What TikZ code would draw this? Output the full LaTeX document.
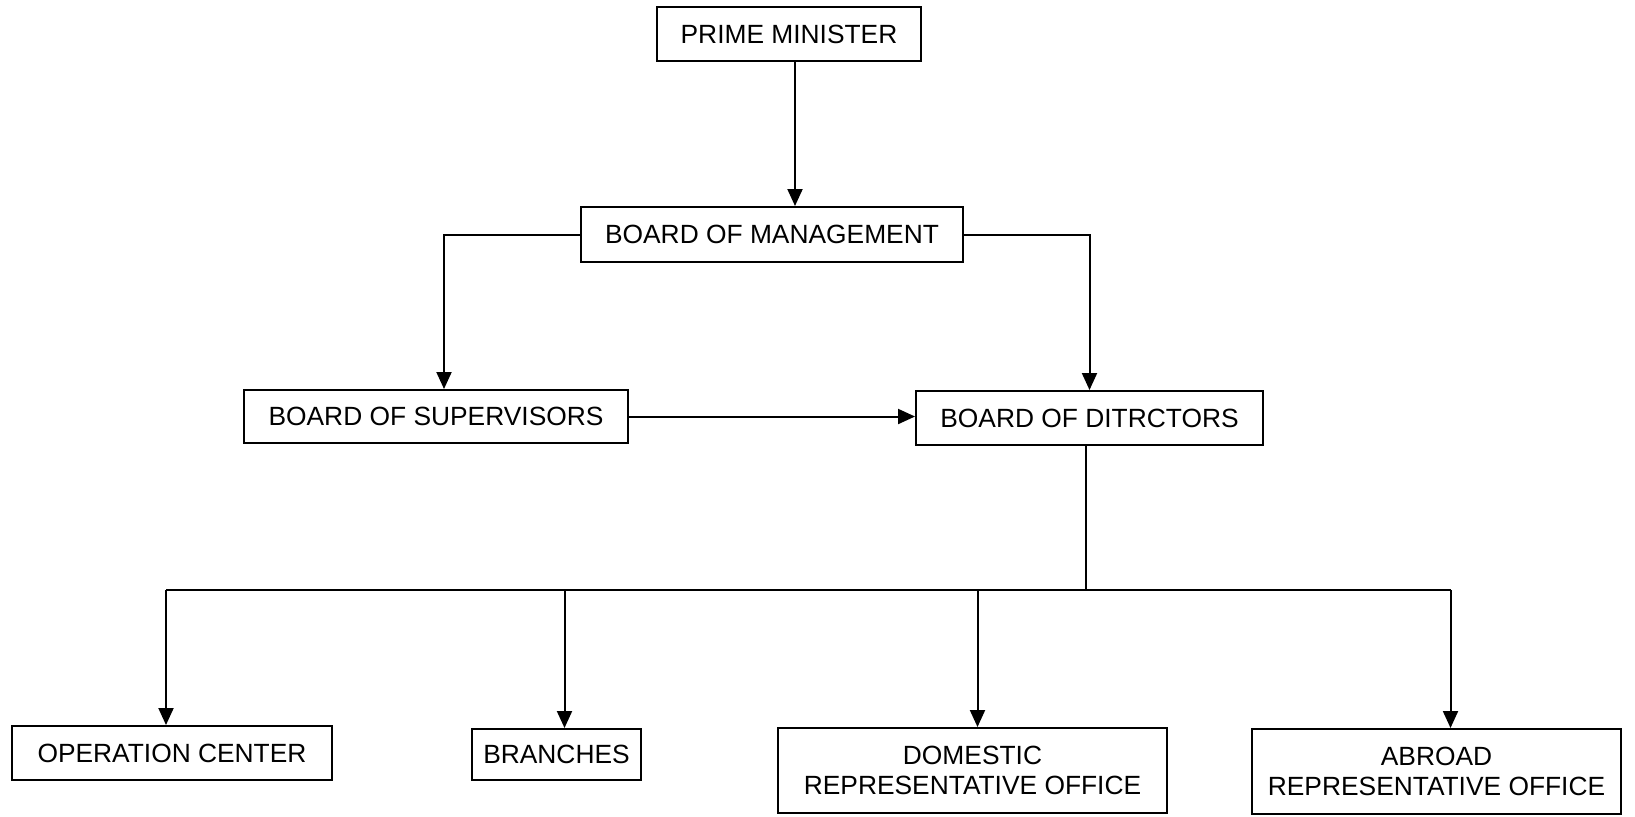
\documentclass[tikz,border=0pt]{standalone}
\usepackage{fontspec}
\setmainfont{Liberation Sans}
\usetikzlibrary{arrows.meta,calc}

\begin{document}
\begin{tikzpicture}[x=0.02cm,y=-0.02cm,
  box/.style={draw, line width=0.04cm, inner sep=0pt, align=center,
    font=\fontsize{15}{17}\selectfont},
  link/.style={line width=0.04cm},
  arr/.style={line width=0.04cm, -{Triangle[length=0.34cm,width=0.3cm]}}]
\useasboundingbox (0,0) rectangle (1635,816);

\node[box, minimum width=5.28cm, minimum height=1.08cm] (pm) at (789,34) {PRIME MINISTER};
\node[box, minimum width=7.64cm, minimum height=1.1cm] (bom) at (772,234.5) {BOARD OF MANAGEMENT};
\node[box, minimum width=7.68cm, minimum height=1.06cm] (bos) at (436,416.5) {BOARD OF SUPERVISORS};
\node[box, minimum width=6.94cm, minimum height=1.08cm] (bod) at (1089.5,418) {BOARD OF DITRCTORS};

\node[box, minimum width=6.4cm, minimum height=1.08cm] (opc) at (172,753) {OPERATION CENTER};
\node[box, minimum width=3.38cm, minimum height=1.02cm] (brn) at (556.5,754.5) {BRANCHES};
\node[box, minimum width=7.78cm, minimum height=1.7cm] (dom) at (972.5,770.5) {DOMESTIC\\REPRESENTATIVE OFFICE};
\node[box, minimum width=7.38cm, minimum height=1.7cm] (abr) at (1436.5,771.5) {ABROAD\\REPRESENTATIVE OFFICE};

% arrow ends are a little off the box centres
\coordinate (pmin) at ($(pm.south)+(6,0)$);
\coordinate (bosin) at ($(bos.north)+(8,0)$);
\coordinate (opcin) at ($(opc.north)+(-6,0)$);
\coordinate (brnin) at ($(brn.north)+(8,0)$);
\coordinate (domin) at ($(dom.north)+(5,0)$);
\coordinate (abrin) at ($(abr.north)+(14,0)$);

\draw[arr] (pmin) -- (pmin |- bom.north);
\draw[arr] (bom.west) -| (bosin);
\draw[arr] (bom.east) -| (bod.north);
\draw[arr] (bos.east) -- (bos.east -| bod.west);

\coordinate (bus) at ($(bod.south |- 0,590)+(-4,0)$);
\draw[link] (bus |- bod.south) -- (bus);
\draw[link] (bus) -- (bus -| opcin);
\draw[link] (bus) -- (bus -| abrin);
\foreach \c in {opcin,brnin,domin,abrin}
  \draw[arr] (bus -| \c) -- (\c);

\end{tikzpicture}
\end{document}
